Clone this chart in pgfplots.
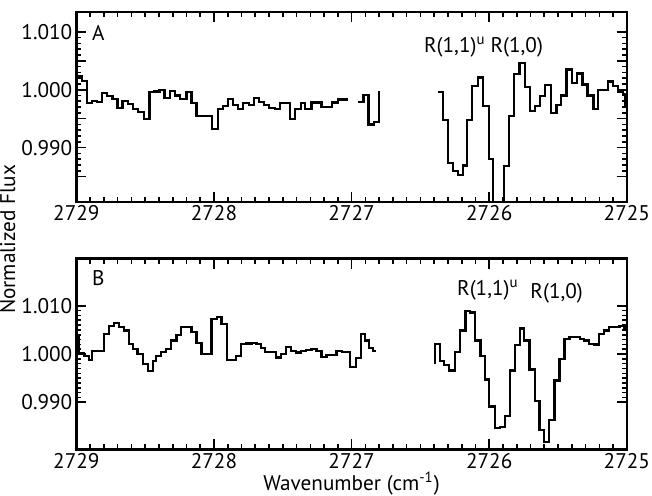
\documentclass[border=0pt]{standalone}
\usepackage{fontspec}
\setmainfont{PT Sans}
\usepackage{pgfplots}
\pgfplotsset{compat=1.18}

% top panel (A)
\pgfplotstableread{
wn flux
2729.000 1.0024
2728.958 1.0015
2728.922 0.9977
2728.885 0.9980
2728.849 0.9979
2728.812 0.9994
2728.775 0.9989
2728.738 0.9984
2728.701 0.9969
2728.664 0.9981
2728.627 0.9975
2728.590 0.9966
2728.553 0.9962
2728.511 0.9950
2728.469 0.9996
2728.432 0.9997
2728.396 1.0000
2728.359 0.9986
2728.322 0.9998
2728.285 0.9990
2728.245 0.9984
2728.200 0.9996
2728.163 0.9977
2728.127 0.9954
2728.017 0.9932
2727.972 0.9967
2727.933 0.9972
2727.899 0.9984
2727.860 0.9973
2727.826 0.9967
2727.787 0.9977
2727.746 0.9973
2727.709 0.9985
2727.672 0.9979
2727.636 0.9974
2727.599 0.9969
2727.557 0.9967
2727.518 0.9977
2727.446 0.9949
2727.410 0.9967
2727.370 0.9977
2727.336 0.9967
2727.292 0.9978
2727.219 0.9970
2727.141 0.9978
2727.101 0.9983
2727.023 0.9983
}\specAa
\pgfplotstableread{
wn flux
2726.950 0.9979
2726.913 0.9991
2726.877 0.9940
2726.840 0.9944
2726.803 0.9998
}\specAb
\pgfplotstableread{
wn flux
2726.375 0.9996
2726.338 0.9948
2726.301 0.9873
2726.265 0.9859
2726.228 0.9853
2726.191 0.9869
2726.160 0.9948
2726.123 1.0006
2726.081 1.0021
2726.044 0.9972
2726.003 0.9880
2725.970 0.9780
2725.931 0.9780
2725.892 0.9868
2725.854 0.9955
2725.820 1.0027
2725.780 1.0046
2725.739 1.0005
2725.702 0.9963
2725.666 0.9972
2725.629 0.9989
2725.592 1.0008
2725.550 0.9960
2725.512 0.9974
2725.477 0.9990
2725.438 1.0035
2725.396 1.0012
2725.365 1.0028
2725.323 1.0009
2725.286 0.9990
2725.242 0.9967
2725.208 0.9999
2725.139 1.0014
2725.103 1.0006
2725.066 0.9996
2725.029 0.9992
2725.012 0.9970
2724.990 0.9970
}\specAc

% bottom panel (B)
\pgfplotstableread{
wn flux
2729.000 1.0039
2728.983 1.0001
2728.946 0.9996
2728.910 0.9987
2728.885 1.0007
2728.800 1.0042
2728.763 1.0058
2728.726 1.0065
2728.690 1.0056
2728.653 1.0049
2728.616 1.0021
2728.591 1.0011
2728.555 1.0000
2728.518 0.9979
2728.481 0.9965
2728.445 0.9986
2728.420 0.9996
2728.383 1.0004
2728.347 1.0011
2728.310 1.0028
2728.273 1.0039
2728.237 1.0056
2728.200 1.0056
2728.163 1.0046
2728.127 1.0023
2728.090 1.0000
2728.018 1.0072
2727.978 1.0077
2727.946 1.0063
2727.904 0.9988
2727.872 0.9987
2727.838 0.9996
2727.801 1.0021
2727.765 1.0022
2727.725 1.0023
2727.691 1.0021
2727.659 1.0012
2727.628 1.0004
2727.586 1.0005
2727.549 0.9993
2727.512 1.0000
2727.476 1.0015
2727.439 1.0007
2727.402 1.0003
2727.366 1.0006
2727.329 1.0008
2727.292 1.0010
2727.255 1.0006
2727.219 0.9994
2727.182 0.9998
2727.145 0.9998
2727.109 1.0006
2727.072 1.0005
2727.011 0.9973
2726.969 0.9992
2726.930 1.0041
2726.901 1.0028
2726.872 1.0012
2726.845 1.0007
2726.820 1.0007
}\specBa
\pgfplotstableread{
wn flux
2726.394 0.9980
2726.394 1.0021
2726.358 0.9986
2726.326 0.9977
2726.290 0.9966
2726.248 1.0004
2726.211 1.0049
2726.172 1.0090
2726.138 1.0086
2726.101 1.0028
2726.064 0.9996
2726.033 0.9947
2726.000 0.9891
2725.959 0.9847
2725.923 0.9849
2725.886 0.9872
2725.849 0.9966
2725.812 1.0018
2725.776 1.0053
2725.746 1.0028
2725.707 0.9968
2725.666 0.9903
2725.634 0.9842
2725.600 0.9817
2725.563 0.9863
2725.526 0.9945
2725.490 0.9989
2725.453 1.0032
2725.416 1.0036
2725.379 1.0035
2725.343 1.0032
2725.311 1.0028
2725.274 1.0021
2725.237 1.0020
2725.200 1.0042
2725.164 1.0049
2725.127 1.0056
2725.090 1.0056
2725.054 1.0058
2725.017 1.0055
2724.990 1.0055
}\specBb

\begin{document}
\begin{tikzpicture}
\tikzset{lbl/.style={font=\fontsize{10.5}{12}\selectfont, inner sep=0pt}}
\pgfplotsset{
  panel/.style={
    scale only axis, width=272.5pt,
    x dir=reverse, xmin=2725, xmax=2729,
    xtick={2725,2726,2727,2728,2729},
    xticklabels={2725,2726,2727,2728,2729},
    minor x tick num=9,
    axis line style={line width=1.2pt},
    every tick/.style={black, line width=0.8pt},
    major tick length=5pt, minor tick length=2.5pt,
    tick align=inside,
    tick label style={font=\fontsize{10.5}{12}\selectfont},
    xticklabel style={inner sep=1pt, yshift=-0.5pt},
    yticklabel style={xshift=1.5pt},
  },
  spec/.style={black, line width=1.1pt, const plot mark left, mark=none},
}
\begin{axis}[panel, name=top, height=94pt,
  ymin=0.9806, ymax=1.0134,
  ytick={0.985,0.990,0.995,1.000,1.005,1.010},
  yticklabels={,0.990,,1.000,,1.010},
  minor y tick num=4]
\addplot[spec] table[x=wn,y=flux] {\specAa};
\addplot[spec] table[x=wn,y=flux] {\specAb};
\addplot[spec] table[x=wn,y=flux] {\specAc};
\node[lbl] at (axis cs:2728.84,1.0098) {A};
\node[lbl] at (axis cs:2726.25,1.0073) {R(1,1)\textsuperscript{u}};
\node[lbl] at (axis cs:2725.80,1.0073) {R(1,0)};
\end{axis}
\begin{axis}[panel, name=bot, at={(top.south west)}, anchor=north west, yshift=-28pt,
  height=94.5pt, ymin=0.9802, ymax=1.0198,
  ytick={0.990,1.000,1.010},
  yticklabels={0.990,1.000,1.010},
  minor y tick num=9]
\addplot[spec] table[x=wn,y=flux] {\specBa};
\addplot[spec] table[x=wn,y=flux] {\specBb};
\node[lbl] at (axis cs:2728.84,1.0158) {B};
\node[lbl] at (axis cs:2726.01,1.0132) {R(1,1)\textsuperscript{u}};
\node[lbl] at (axis cs:2725.51,1.0126) {R(1,0)};
\end{axis}
\node[rotate=90, lbl] at ([xshift=-34pt,yshift=-18.5pt]top.south west) {Normalized Flux};
\node[lbl, anchor=base] at ([yshift=-20.5pt]bot.south) {Wavenumber (cm\textsuperscript{-1})};
\path ([yshift=6pt]top.north west) -- ([yshift=-23pt]bot.south east);
\end{tikzpicture}
\end{document}
